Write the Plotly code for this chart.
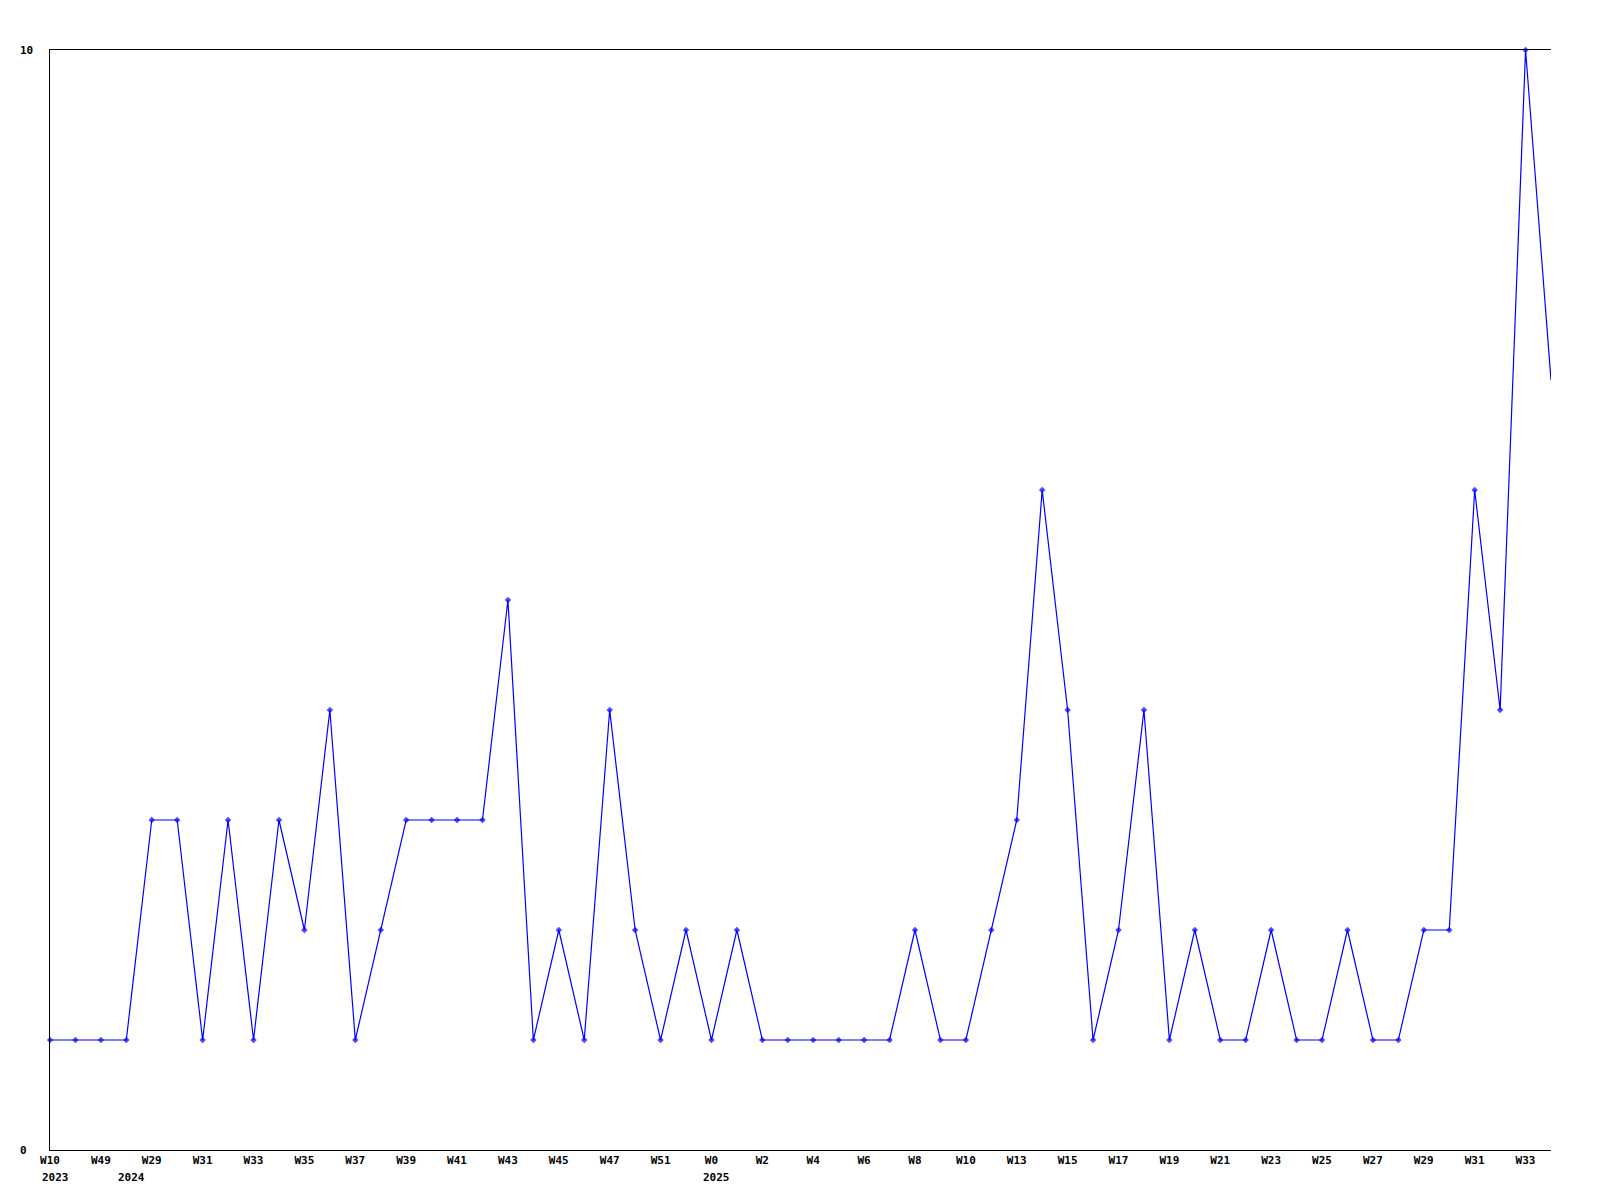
import plotly.graph_objects as go

values = [1, 1, 1, 1, 3, 3, 1, 3, 1, 3,
          2, 4, 1, 2, 3, 3, 3, 3, 5, 1,
          2, 1, 4, 2, 1, 2, 1, 2, 1, 1,
          1, 1, 1, 1, 2, 1, 1, 2, 3, 6,
          4, 1, 2, 4, 1, 2, 1, 1, 2, 1,
          1, 2, 1, 1, 2, 2, 6, 4, 10, 7]
week_ticks = ["W10", "W49", "W29", "W31", "W33", "W35", "W37", "W39", "W41", "W43",
              "W45", "W47", "W51", "W0", "W2", "W4", "W6", "W8", "W10", "W13",
              "W15", "W17", "W19", "W21", "W23", "W25", "W27", "W29", "W31", "W33"]
tick_positions = list(range(0, 60, 2))
year_labels = ["2023", "2024", "2025"]
year_positions = [0, 3, 26]
y_ticks = [0, 10]

FONT = dict(family="DejaVu Sans Mono", size=11, color="black", weight="bold")

x = list(range(len(values)))
sizes = [5] * (len(values) - 1) + [0]

fig = go.Figure()
fig.add_trace(go.Scatter(
    x=x, y=values, mode="lines+markers",
    line=dict(color="#0000ff", width=1.2),
    marker=dict(color="#0000ff", size=sizes, symbol="diamond", line=dict(width=0)),
    cliponaxis=False, showlegend=False,
))

annotations = []
for v in y_ticks:
    annotations.append(dict(x=-0.021, xref="paper", y=v, yref="y", text=str(v),
                            showarrow=False, xanchor="left", yanchor="middle", font=FONT))
for lbl, pos in zip(year_labels, year_positions):
    annotations.append(dict(x=pos, xref="x", y=0, yref="paper", text=lbl,
                            showarrow=False, xanchor="left", yanchor="middle",
                            xshift=-10, yshift=-27, font=FONT))

fig.update_layout(
    width=1584, height=1184,
    margin=dict(l=42, r=41, t=42, b=42),
    paper_bgcolor="white", plot_bgcolor="white",
    font=FONT,
    annotations=annotations,
    xaxis=dict(range=[0, 59], tickvals=tick_positions, ticktext=week_ticks,
               showgrid=False, zeroline=False, showline=True, mirror=True,
               linecolor="black", linewidth=1, ticks="", tickfont=FONT, tickangle=0),
    yaxis=dict(range=[0, 10], showgrid=False, zeroline=False, showline=True,
               linecolor="black", linewidth=1, showticklabels=False, ticks=""),
)

fig.write_html("out.html")
